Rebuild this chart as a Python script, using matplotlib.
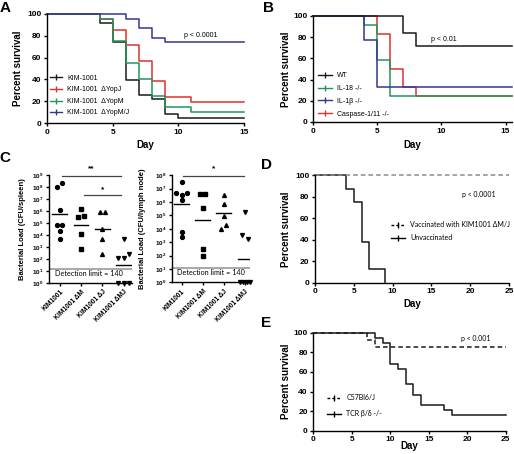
import numpy as np
import matplotlib
matplotlib.use("Agg")
import matplotlib.pyplot as plt
from matplotlib.lines import Line2D

plt.rcParams['font.family'] = ['Liberation Sans', 'DejaVu Sans']
plt.rcParams['font.weight'] = 'bold'
plt.rcParams['axes.labelweight'] = 'bold'
plt.rcParams['mathtext.fontset'] = 'custom'
plt.rcParams['mathtext.bf'] = 'Liberation Sans:bold'
plt.rcParams['mathtext.rm'] = 'Liberation Sans:bold'

# ---------------- data ----------------
# panel A: survival (%) after each drop day
a_kim_t = [0, 4, 5, 6, 7, 8, 9, 10]
a_kim_s = [100, 91.3, 73.9, 39.1, 26.1, 21.7, 8.7, 4.3]
a_yopj_t = [0, 4, 5, 6, 7, 8, 9, 11]
a_yopj_s = [100, 95.2, 85.7, 71.4, 57.1, 38.1, 23.8, 19.0]
a_yopm_t = [0, 4, 5, 6, 7, 8, 9, 11]
a_yopm_s = [100, 95, 75, 55, 40, 25, 15, 10]
a_yopmj_t = [0, 6, 7, 8, 9]
a_yopmj_s = [100, 95.7, 87.0, 78.3, 73.9]
a_labels = ['KIM-1001', 'KIM-1001  ΔYopJ', 'KIM-1001  ΔYopM', 'KIM-1001  ΔYopM/J']

# panel B
b_wt_t = [0, 7, 8]
b_wt_s = [100, 84, 72]
b_il18_t = [0, 4, 5, 6]
b_il18_s = [100, 91.7, 58.3, 25]
b_il1b_t = [0, 4, 5]
b_il1b_s = [100, 77.8, 33.3]
b_casp_t = [0, 5, 6, 7, 8]
b_casp_s = [100, 83.3, 50, 33.3, 25]
b_labels = ['WT', 'IL-18 -/-', 'IL-1β -/-', 'Caspase-1/11 -/-']

# panel C: log10 CFU
c_groups = ['KIM1001', 'KIM1001 ΔM', 'KIM1001 ΔJ', 'KIM1001 ΔMJ']
spl_kim = [8.0, 8.3, 6.1, 4.8, 4.85, 4.3, 3.7]
spl_dm = [6.2, 5.5, 5.6, 4.1, 2.85]
spl_dj = [5.9, 5.9, 4.5, 3.7, 2.45]
spl_dmj = [3.7, 2.1, 2.1, 2.4, 0, 0, 0]
ln_kim = [7.53, 6.68, 6.56, 6.68, 6.18, 3.79, 3.37]
ln_dm = [6.63, 6.58, 5.59, 2.49, 2.0]
ln_dj = [6.56, 5.89, 4.99, 3.99, 4.32]
ln_dmj = [5.29, 3.54, 3.24, 0, 0, 0, 0]
spl_limit = 1.2
ln_limit = 1.1

# panel D
d_unvac_t = [0, 4, 5, 6, 7, 9]
d_unvac_s = [100, 87.5, 75, 37.5, 12.5, 0]
d_vac_t = [0]
d_vac_s = [100]
d_labels = ['Vaccinated with KIM1001 ΔM/J', 'Unvaccinated']

# panel E
e_c57_t = [0, 7, 8]
e_c57_s = [100, 92.9, 85.7]
e_tcr_t = [0, 8, 9, 10, 11, 12, 13, 14, 17, 18]
e_tcr_s = [100, 94.7, 89.5, 68.4, 63.2, 47.4, 36.8, 26.3, 21.1, 15.8]
e_labels = ['C57Bl6/J', 'TCR β/δ -/-']

W, H = 514, 454
fig = plt.figure(figsize=(W / 100, H / 100), dpi=100)


def box(l, r, t, b):
    return fig.add_axes([l / W, 1 - b / H, (r - l) / W, (b - t) / H])


def prism(ax, size=6):
    for s in ['top', 'right']:
        ax.spines[s].set_visible(False)
    for s in ['left', 'bottom']:
        ax.spines[s].set_linewidth(1.0)
    ax.tick_params(direction='out', length=2.5, width=1, labelsize=size, pad=1.5)


def km(ax, t, s, end, **kw):
    x = list(t) + [end]
    y = list(s) + [s[-1]]
    ax.step(x, y, where='post', clip_on=False, **kw)


def surv_axes(ax, xmax, xticks):
    prism(ax)
    ax.set_xlim(0, xmax)
    ax.set_ylim(0, 100)
    ax.set_xticks(xticks)
    ax.set_yticks(range(0, 101, 20))
    ax.set_xlabel('Day', fontsize=7)
    ax.set_ylabel('Percent survival', fontsize=7)


leg_kw = dict(frameon=False, prop={'weight': 'normal', 'size': 5}, borderpad=0,
              borderaxespad=0, loc='lower left')

# ---------------- A ----------------
axA = box(47, 244, 14, 123)
colsA = ['#1a1a1a', '#e0302c', '#23955a', '#34358f']
km(axA, a_kim_t, a_kim_s, 15, color=colsA[0], lw=1.1)
km(axA, a_yopj_t, a_yopj_s, 15, color=colsA[1], lw=1.1)
km(axA, a_yopm_t, a_yopm_s, 15, color=colsA[2], lw=1.1)
km(axA, a_yopmj_t, a_yopmj_s, 15, color=colsA[3], lw=1.1)
surv_axes(axA, 15, [0, 5, 10, 15])
axA.xaxis.set_label_coords(0.5, -0.156)
axA.yaxis.set_label_coords(-0.12, 0.5)
axA.text(10.4, 80, 'p < 0.0001', fontsize=5, fontweight='normal', va='center')
hA = [Line2D([], [], color=c, lw=1, marker='|', ms=4) for c in colsA]
axA.legend(hA, a_labels, bbox_to_anchor=(0.015, 0.06), labelspacing=0.65,
           handlelength=1.8, handletextpad=0.7, **leg_kw)

# ---------------- B ----------------
axB = box(313, 512, 16, 122)
colsB = ['#1a1a1a', '#23955a', '#34358f', '#e0302c']
km(axB, b_casp_t, b_casp_s, 15.5, color=colsB[3], lw=1.1)
km(axB, b_il18_t, b_il18_s, 15.5, color=colsB[1], lw=1.1)
km(axB, b_il1b_t, b_il1b_s, 15.5, color=colsB[2], lw=1.1)
km(axB, b_wt_t, b_wt_s, 15.5, color=colsB[0], lw=1.1)
surv_axes(axB, 15.5, [0, 5, 10, 15])
axB.xaxis.set_label_coords(0.5, -0.17)
axB.yaxis.set_label_coords(-0.11, 0.5)
axB.text(9.2, 78, 'p < 0.01', fontsize=5, fontweight='normal', va='center')
hB = [Line2D([], [], color=c, lw=1, marker='|', ms=4) for c in colsB]
axB.legend(hB, b_labels, bbox_to_anchor=(0.024, 0.04), labelspacing=0.85,
           handlelength=2.0, handletextpad=0.8, **leg_kw)


# ---------------- C ----------------
def spread(vals, tol=0.35):
    vals = np.asarray(vals, float)
    order = np.argsort(vals, kind='stable')
    groups = []
    for i in order:
        if groups and vals[i] - vals[groups[-1][-1]] <= tol:
            groups[-1].append(i)
        else:
            groups.append([i])
    off = np.zeros(len(vals))
    for g in groups:
        g = sorted(g)
        n = len(g)
        if n > 1:
            gap = min(0.25, 0.5 / (n - 1))
            off[g] = (np.arange(n) - (n - 1) / 2) * gap
    return off


def dotplot(ax, sets, limit, top, ylabel):
    markers = ['o', 's', '^', 'v']
    for k, (vals, m) in enumerate(zip(sets, markers)):
        x = k + 1 + spread(vals)
        ax.plot(x, vals, ls='none', marker=m, ms=2.8, color='k', clip_on=False)
        mu = np.mean(vals)
        ax.plot([k + 1 - 0.35, k + 1 + 0.35], [mu, mu], color='k', lw=1)
    ax.axhline(limit, color='#9a9a9a', lw=1.2)
    prism(ax, size=4.5)
    ax.set_ylim(0, top)
    ax.set_yticks(range(0, top + 1))
    ax.set_yticklabels([r'$\mathbf{10^{%d}}$' % k for k in range(top + 1)])
    ax.set_xticks([1, 2, 3, 4])
    ax.set_xticklabels(c_groups, rotation=45, ha='right', va='top',
                       rotation_mode='anchor', fontsize=4.8)
    ax.set_ylabel(ylabel, fontsize=5.5)
    ax.text(0.07, 0.065, 'Detection limit = 140', transform=ax.transAxes,
            fontsize=5.2, fontweight='normal', family=['Lato', 'DejaVu Sans'])


axC1 = box(49, 131.7, 175, 283)
dotplot(axC1, [spl_kim, spl_dm, spl_dj, spl_dmj], spl_limit, 9,
        'Bacterial Load (CFU/spleen)')
axC1.set_xlim(0.5, 4.38)
axC1.yaxis.set_label_coords(-0.28, 0.5)
axC1.plot([1.11, 3.89], [8.95, 8.95], color='#444', lw=0.9, clip_on=False)
axC1.text(2.5, 9.25, '**', ha='center', va='bottom', fontsize=6)
axC1.plot([2.15, 3.89], [7.33, 7.33], color='#444', lw=0.9)
axC1.text(3.0, 7.45, '*', ha='center', va='bottom', fontsize=6)

axC2 = box(171.7, 250, 175.3, 282.3)
dotplot(axC2, [ln_kim, ln_dm, ln_dj, ln_dmj], ln_limit, 8,
        'Bacterial Load (CFU/lymph node)')
axC2.set_xlim(0.53, 4.24)
axC2.yaxis.set_label_coords(-0.33, 0.5)
axC2.plot([1.08, 3.95], [7.95, 7.95], color='#444', lw=0.9, clip_on=False)
axC2.text(2.5, 8.2, '*', ha='center', va='bottom', fontsize=6)

# ---------------- D ----------------
axD = box(315, 509, 175.3, 282.7)
km(axD, d_unvac_t, d_unvac_s, 9, color='#1a1a1a', lw=1.1)
km(axD, d_vac_t, d_vac_s, 25, color='#8a8a8a', lw=1.1, ls=(0, (3, 2)))
surv_axes(axD, 25, [0, 5, 10, 15, 20, 25])
axD.xaxis.set_label_coords(0.5, -0.152)
axD.yaxis.set_label_coords(-0.124, 0.5)
axD.text(18.9, 81.7, 'p < 0.0001', fontsize=5, fontweight='normal', va='center',
         family=['Lato', 'DejaVu Sans'])
hD = [Line2D([], [], color='k', lw=1, ls=(0, (2, 1.5)), marker='|', ms=4),
      Line2D([], [], color='k', lw=1, marker='|', ms=4)]
legD = dict(leg_kw)
legD['prop'] = {'weight': 'normal', 'size': 5, 'family': ['Lato', 'DejaVu Sans']}
axD.legend(hD, d_labels, bbox_to_anchor=(0.39, 0.385), labelspacing=0.9,
           handlelength=2.0, handletextpad=0.8, **legD)

# ---------------- E ----------------
axE = box(313.3, 505.7, 332.7, 430.7)
km(axE, e_tcr_t, e_tcr_s, 25, color='#1a1a1a', lw=1.1)
km(axE, e_c57_t, e_c57_s, 25, color='#1a1a1a', lw=1.1, ls=(0, (3, 2)))
surv_axes(axE, 25, [0, 5, 10, 15, 20, 25])
axE.xaxis.set_label_coords(0.5, -0.11)
axE.yaxis.set_label_coords(-0.117, 0.5)
axE.text(19.2, 94.3, 'p < 0.001', fontsize=5, fontweight='normal', va='center',
         family=['Lato', 'DejaVu Sans'])
hE = [Line2D([], [], color='k', lw=1, ls=(0, (2, 1.5)), marker='|', ms=4),
      Line2D([], [], color='k', lw=1, marker='|', ms=4)]
axE.legend(hE, e_labels, bbox_to_anchor=(0.07, 0.14), labelspacing=1.3,
           handlelength=2.0, handletextpad=0.8, **legD)

# panel letters
for lab, (px, py) in zip('ABCDE', [(5, 8), (268, 8), (5, 158), (267, 165), (266, 323)]):
    fig.text(px / W, 1 - py / H, lab, fontsize=11, fontweight='bold',
             ha='center', va='center')

fig.savefig('out.png', dpi=100)
